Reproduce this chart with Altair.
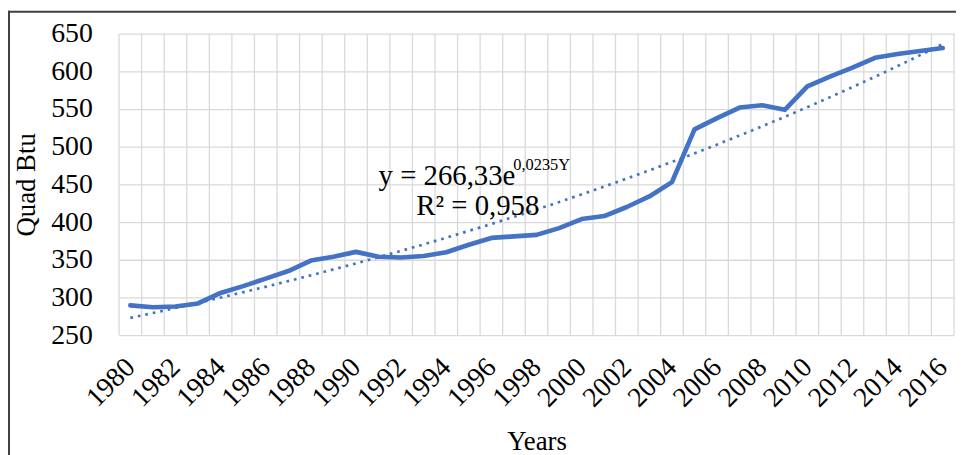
import altair as alt
import pandas as pd

# ---- data ----
years = list(range(1980, 2017))
consumption = [289.5, 287, 288, 292, 306, 315, 325, 335, 349, 354, 360.5,
               354, 353, 355, 360, 370, 379, 381, 383, 392, 404, 408, 420, 434, 453,
               523, 538, 552, 555, 549, 580, 593, 605, 618, 623, 627, 631]
y_ticks = [250, 300, 350, 400, 450, 500, 550, 600, 650]
label_years = [y for y in years if y % 2 == 0]
eq_main = "y = 266,33e"
eq_exp = "0,0235Y"
eq_r2 = "R² = 0,958"

df = pd.DataFrame({"year": years, "value": consumption})
boundaries = [y - 0.5 for y in years] + [years[-1] + 0.5]

FONT = "Liberation Serif"
BLUE = "#4472C4"
GRID = "#D9D9D9"
W, H = 842, 304

x_scale = alt.Scale(domain=[years[0] - 0.5, years[-1] + 0.5], nice=False, zero=False)
y_scale = alt.Scale(domain=[y_ticks[0], y_ticks[-1]], nice=False, zero=False)

x_axis = alt.Axis(
    values=label_years,
    tickCount=40,
    format="d",
    labelAngle=-45, labelAlign="right", labelBaseline="middle",
    labelPadding=28, labelFont=FONT, labelFontSize=28, labelColor="black",
    labelOverlap=False, labelFlush=False, labelBound=False,
    ticks=False, domain=False, grid=False,
    title="Years", titleFont=FONT, titleFontSize=27, titleFontWeight="normal",
    titleColor="black", titleX=W / 2, titleY=115, titleAlign="center",
    titleBaseline="alphabetic",
)
y_axis = alt.Axis(
    values=y_ticks,
    labelFont=FONT, labelFontSize=28, labelColor="black", labelPadding=27,
    ticks=False, domain=False,
    grid=True, gridColor=GRID, gridWidth=1.3,
    title="Quad Btu", titleFont=FONT, titleFontSize=27, titleFontWeight="normal",
    titleColor="black", titleAngle=-90, titleX=-85, titleY=H / 2,
    titleAlign="center", titleBaseline="alphabetic",
)

base = alt.Chart(df)

vgrid = alt.Chart(pd.DataFrame({"b": boundaries})).mark_rule(
    color=GRID, strokeWidth=1.3
).encode(
    x=alt.X("b:Q", scale=x_scale, axis=x_axis),
    y=alt.value(0), y2=alt.value(H),
)

main_line = base.mark_line(color=BLUE, strokeWidth=4.7, strokeCap="round",
                           strokeJoin="round").encode(
    x=alt.X("year:Q", scale=x_scale, axis=x_axis),
    y=alt.Y("value:Q", scale=y_scale, axis=y_axis),
)

trend = base.transform_calculate(
    lny="log(datum.value)"
).transform_regression(
    "year", "lny", method="poly", order=1
).transform_calculate(
    trend="exp(datum.lny)"
).mark_line(color=BLUE, strokeWidth=2.7, strokeDash=[2.7, 5]).encode(
    x=alt.X("year:Q", scale=x_scale, axis=x_axis),
    y=alt.Y("trend:Q", scale=y_scale, axis=y_axis),
)

one = alt.Chart(pd.DataFrame({"a": [0]}))


def pos(xv, yv):
    return dict(
        x=alt.XDatum(xv, type="quantitative", scale=x_scale, axis=x_axis),
        y=alt.YDatum(yv, type="quantitative", scale=y_scale, axis=y_axis),
    )


txt_main = one.mark_text(text=eq_main, align="left", baseline="alphabetic",
                         font=FONT, fontSize=29, color="black").encode(**pos(1991.0, 448.7))
txt_exp = one.mark_text(text=eq_exp, align="left", baseline="alphabetic",
                        font=FONT, fontSize=16.5, color="black").encode(**pos(1996.97, 469.4))
txt_r2 = one.mark_text(text=eq_r2, align="left", baseline="alphabetic",
                       font=FONT, fontSize=29, color="black").encode(**pos(1992.67, 410.0))

frame_top = one.mark_rule(color="#404040", strokeWidth=2).encode(
    x=alt.value(-112), x2=alt.value(W + 20), y=alt.value(-22))
frame_left = one.mark_rule(color="#404040", strokeWidth=2).encode(
    x=alt.value(-111), y=alt.value(-23), y2=alt.value(H + 200))

chart = alt.layer(
    vgrid, trend, main_line, txt_main, txt_exp, txt_r2, frame_top, frame_left
).properties(
    width=W, height=H,
    autosize=alt.AutoSizeParams(type="none"),
    padding={"left": 112, "top": 24, "right": 2, "bottom": 447 - 24 - H},
    background="white",
).configure_view(stroke=None)

chart.save("out.html", embed_options={"renderer": "svg", "actions": False})
